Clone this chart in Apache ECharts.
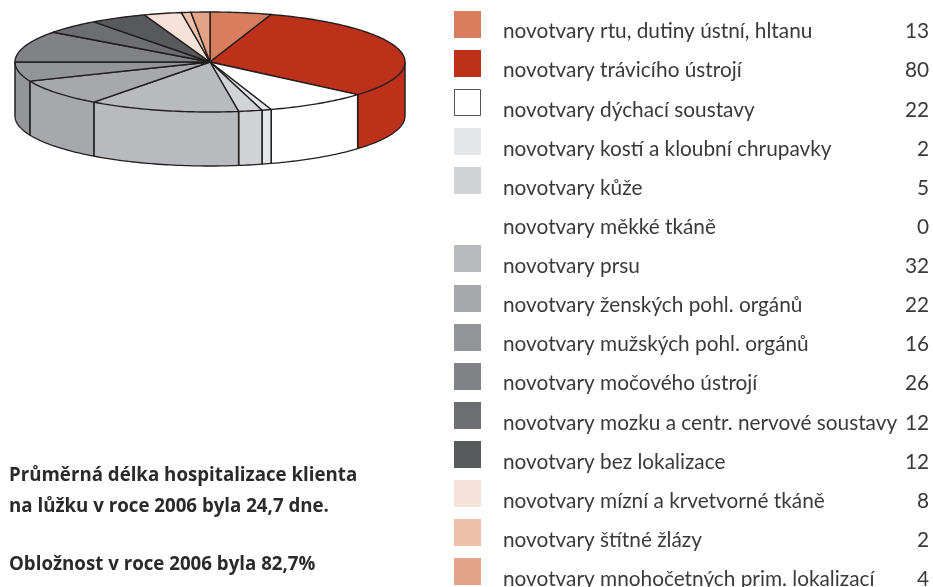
<!DOCTYPE html>
<html>
<head>
<meta charset="utf-8">
<style>html,body{margin:0;padding:0;background:#fff}#c{width:933px;height:587px}</style>
<script src="https://cdn.jsdelivr.net/npm/echarts@6/dist/echarts.min.js"></script>
</head>
<body>
<div id="c"></div>
<script>
const categories = [
  'novotvary rtu, dutiny ústní, hltanu',
  'novotvary trávicího ústrojí',
  'novotvary dýchací soustavy',
  'novotvary kostí a kloubní chrupavky',
  'novotvary kůže',
  'novotvary měkké tkáně',
  'novotvary prsu',
  'novotvary ženských pohl. orgánů',
  'novotvary mužských pohl. orgánů',
  'novotvary močového ústrojí',
  'novotvary mozku a centr. nervové soustavy',
  'novotvary bez lokalizace',
  'novotvary mízní a krvetvorné tkáně',
  'novotvary štítné žlázy',
  'novotvary mnohočetných prim. lokalizací'
];
const values = [13, 80, 22, 2, 5, 0, 32, 22, 16, 26, 12, 12, 8, 2, 4];
const colors = ['#d87d5d', '#bd311a', '#ffffff', '#e5e6e8', '#d1d3d5', null, '#b9babe', '#a7a8ac',
  '#939598', '#808285', '#6d6e71', '#58595b', '#f6e2d8', '#edc0ab', '#e3a386'];
const notes = [
  'Průměrná délka hospitalizace klienta',
  'na lůžku v roce 2006 byla 24,7 dne.',
  'Obložnost v roce 2006 byla 82,7%'
];

const PIE = { cx: 210, cy: 62, rx: 195, ry: 50, depth: 54 };
const INK = '#231f20';
const TEXT = '#3a3a3c';
const FONT = 'Lato';
const total = values.reduce((a, b) => a + b, 0);
const starts = [];
values.reduce((acc, v, i) => { starts[i] = acc; return acc + v; }, 0);
const angle = v => v / total * Math.PI * 2;
const rim = (a, dy) => [PIE.cx + PIE.rx * Math.sin(a), PIE.cy - PIE.ry * Math.cos(a) + (dy || 0)];
const arc = (a0, a1, dy) => {
  const n = Math.max(2, Math.ceil((a1 - a0) / 0.02));
  const pts = [];
  for (let k = 0; k <= n; k++) pts.push(rim(a0 + (a1 - a0) * k / n, dy));
  return pts;
};
const strokeStyle = w => ({ stroke: INK, lineWidth: w });

function renderSide(params) {
  const i = params.dataIndex;
  if (!values[i]) return { type: 'group', children: [] };
  const a0 = Math.max(angle(starts[i]), Math.PI / 2);
  const a1 = Math.min(angle(starts[i] + values[i]), Math.PI * 1.5);
  if (a1 <= a0) return { type: 'group', children: [] };
  const top = arc(a0, a1, 0), bottom = arc(a0, a1, PIE.depth).reverse();
  return {
    type: 'group',
    children: [
      { type: 'polygon', shape: { points: top.concat(bottom) }, style: { fill: colors[i], stroke: 'none' } },
      { type: 'polyline', shape: { points: bottom }, style: { fill: 'none', ...strokeStyle(1.3) } },
      { type: 'line', shape: { x1: rim(a0)[0], y1: rim(a0)[1], x2: rim(a0, PIE.depth)[0], y2: rim(a0, PIE.depth)[1] }, style: strokeStyle(1.5) },
      { type: 'line', shape: { x1: rim(a1)[0], y1: rim(a1)[1], x2: rim(a1, PIE.depth)[0], y2: rim(a1, PIE.depth)[1] }, style: strokeStyle(1.5) }
    ]
  };
}

function renderTop(params) {
  const i = params.dataIndex;
  if (!values[i]) return { type: 'group', children: [] };
  const a0 = angle(starts[i]), a1 = angle(starts[i] + values[i]);
  const pts = [[PIE.cx, PIE.cy]].concat(arc(a0, a1, 0));
  return {
    type: 'polygon',
    shape: { points: pts },
    style: { fill: colors[i], stroke: INK, lineWidth: 1.4, lineJoin: 'round' }
  };
}

function renderLegend(params, api) {
  const i = params.dataIndex;
  const y = api.coord([0, i])[1] + 4.5;
  const kids = [];
  if (colors[i]) {
    const white = colors[i] === '#ffffff';
    kids.push({
      type: 'rect',
      shape: { x: white ? 454.5 : 454, y: Math.round(y - 13.5) + (white ? 0.5 : 0), width: white ? 26 : 27, height: white ? 26 : 27 },
      style: { fill: colors[i], stroke: white ? '#555557' : 'none', lineWidth: 1 }
    });
  }
  const font = '20.8px ' + FONT;
  kids.push({ type: 'text', style: { x: 503, y: y + 7.5, text: categories[i], fill: TEXT, font, align: 'left', verticalAlign: 'middle' } });
  kids.push({ type: 'text', style: { x: 929, y: y + 7.5, text: String(values[i]), fill: TEXT, font, align: 'right', verticalAlign: 'middle' } });
  return { type: 'group', children: kids };
}

const noteY = [474, 505, 563];
const chart = echarts.init(document.getElementById('c'), null, { renderer: 'canvas' });
chart.setOption({
  animation: false,
  backgroundColor: '#ffffff',
  grid: { left: 0, right: 0, top: 0, bottom: 0 },
  xAxis: { type: 'value', min: 0, max: 1, show: false },
  yAxis: { type: 'category', data: categories, inverse: true, show: false },
  graphic: notes.map((t, i) => ({
    type: 'text', left: 9, top: noteY[i] - 7.5,
    style: { text: t, fill: '#2b2a2b', font: 'bold 18.7px "Open Sans"' }
  })),
  series: [
    { type: 'custom', coordinateSystem: 'none', silent: true, renderItem: renderSide, data: values },
    { type: 'custom', coordinateSystem: 'none', silent: true, renderItem: renderTop, data: values },
    { type: 'custom', silent: true, clip: false, renderItem: renderLegend,
      encode: { x: 0, y: 1 }, data: values.map((v, i) => [v, i]) }
  ]
});
</script>
</body>
</html>
